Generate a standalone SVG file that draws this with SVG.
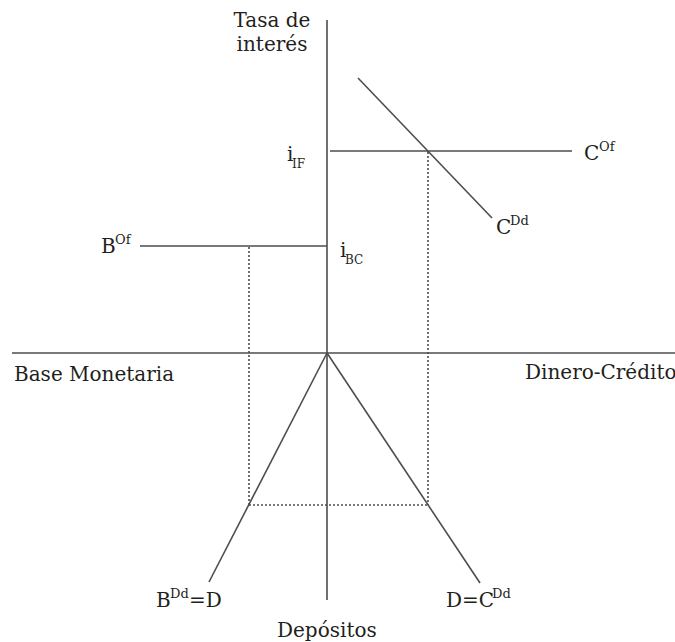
<svg xmlns="http://www.w3.org/2000/svg" width="675" height="642" viewBox="0 0 675 642">
<style>
.ln{stroke:#4d4d50;stroke-width:1.6;fill:none}
.dt{stroke:#4d4d50;stroke-width:1.6;fill:none;stroke-dasharray:2 2}
text{font-family:"DejaVu Serif","Liberation Serif",serif;font-size:20px;fill:#231f20}
.sup{font-size:13px}
.sub{font-size:12px}
</style>
<rect width="675" height="642" fill="#ffffff"/>
<g id="connectors">
<line class="ln" x1="327" y1="20" x2="327" y2="600"/>
<line class="ln" x1="12" y1="353" x2="675" y2="353"/>
<line class="ln" x1="330" y1="151" x2="572" y2="151"/>
<line class="ln" x1="358" y1="78" x2="492" y2="218"/>
<line class="ln" x1="140" y1="246" x2="327" y2="246"/>
<line class="ln" x1="327" y1="353" x2="209" y2="582"/>
<line class="ln" x1="327" y1="353" x2="480" y2="583"/>
<line class="dt" x1="428" y1="152" x2="428" y2="505"/>
<line class="dt" x1="249" y1="247" x2="249" y2="505"/>
<line class="dt" x1="249" y1="505" x2="428" y2="505"/>
</g>
<g id="label-tasa"><text x="272" y="27" text-anchor="middle">Tasa de</text><text x="272" y="51" text-anchor="middle">interés</text></g>
<g id="label-iIF"><text x="287" y="161">i</text><text class="sub" x="292" y="168">IF</text></g>
<g id="label-COf"><text x="584" y="160">C</text><text class="sup" x="599" y="151">Of</text></g>
<g id="label-CDd"><text x="496" y="234">C</text><text class="sup" x="510" y="225">Dd</text></g>
<g id="label-BOf"><text x="101" y="253">B</text><text class="sup" x="115" y="244">Of</text></g>
<g id="label-iBC"><text x="340" y="257">i</text><text class="sub" x="345" y="264">BC</text></g>
<g id="label-base"><text x="14" y="381">Base Monetaria</text></g>
<g id="label-dinero"><text x="525" y="379">Dinero-Crédito</text></g>
<g id="label-BDd"><text x="156" y="607">B</text><text class="sup" x="170" y="598">Dd</text><text x="189" y="607">=D</text></g>
<g id="label-DCDd"><text x="446" y="607">D=C</text><text class="sup" x="492" y="598">Dd</text></g>
<g id="label-depositos"><text x="277" y="637">Depósitos</text></g>
</svg>
